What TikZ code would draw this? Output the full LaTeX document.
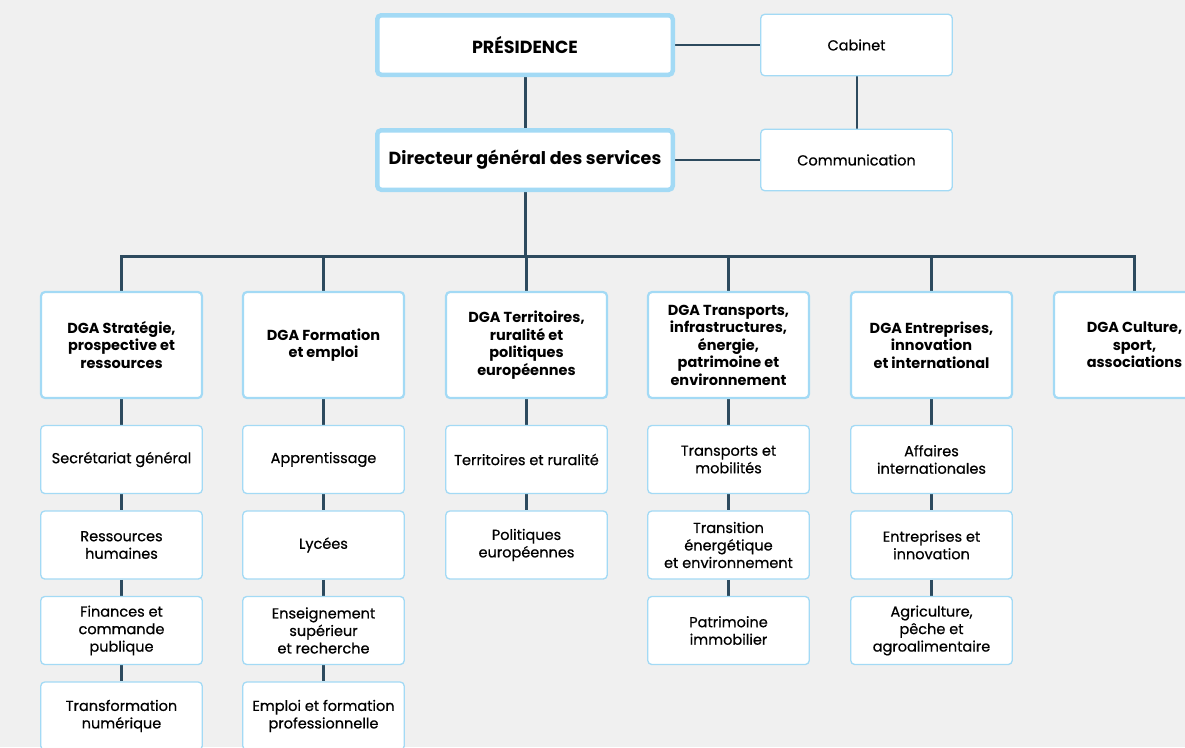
\documentclass[tikz,border=0pt]{standalone}
\usepackage{fontspec}
\setmainfont{Poppins}
\newfontfamily\midfont{Poppins}[FakeBold=0.6]
\usetikzlibrary{backgrounds}
\definecolor{paper}{HTML}{F0F0F0}
\definecolor{frame}{HTML}{A3DAF5}
\definecolor{wire}{HTML}{2D4A5E}

\begin{document}
\begin{tikzpicture}[x=1pt,y=-1pt,
  box/.style={draw=frame,fill=white,rounded corners=4pt,align=center,inner sep=2pt,
    font=\midfont\fontsize{14.5}{17.5}\selectfont},
  headbox/.style={box,line width=4.5pt,minimum width=295.5pt,minimum height=59.5pt,
    font=\bfseries\fontsize{17.5}{20}\selectfont},
  sidebox/.style={box,line width=1.3pt,minimum width=191.5pt,minimum height=61.5pt},
  dgabox/.style={box,line width=2.2pt,minimum width=161pt,minimum height=106pt,
    font=\bfseries\fontsize{14.5}{17.5}\selectfont},
  unitbox/.style={box,line width=1.3pt,minimum width=161.5pt,minimum height=68pt},
  branch/.style={draw=wire,line width=3pt},
  sidebranch/.style={draw=wire,line width=2pt}]
  \useasboundingbox (0,0) rectangle (1185,747);
  % direction
  \node[headbox] (pres) at (525,45) {PRÉSIDENCE};
  \node[headbox] (dgs) at (525,160) {Directeur général des services};
  \node[sidebox] (cab) at (856.5,45) {Cabinet};
  \node[sidebox] (com) at (856.5,160) {Communication};
  \coordinate (bus) at (525,256);
  % DGA
  \node[dgabox] (d1) at (121.5,345) {DGA Stratégie,\\prospective et\\ressources};
  \node[dgabox] (d2) at (323.5,345) {DGA Formation\\et emploi};
  \node[dgabox] (d3) at (526.5,345) {DGA Territoires,\\ruralité et\\politiques\\européennes};
  \node[dgabox] (d4) at (728.5,345) {DGA Transports,\\infrastructures,\\énergie,\\patrimoine et\\environnement};
  \node[dgabox] (d5) at (931.5,345) {DGA Entreprises,\\innovation\\et international};
  \node[dgabox] (d6) at (1134.5,345) {DGA Culture,\\sport,\\associations};
  % services
  \node[unitbox] (s11) at (121.5,459.5) {Secrétariat général};
  \node[unitbox] (s12) at (121.5,545) {Ressources\\humaines};
  \node[unitbox] (s13) at (121.5,630.5) {Finances et\\commande\\publique};
  \node[unitbox] (s14) at (121.5,716) {Transformation\\numérique};
  \node[unitbox] (s21) at (323.5,459.5) {Apprentissage};
  \node[unitbox] (s22) at (323.5,545) {Lycées};
  \node[unitbox] (s23) at (323.5,630.5) {Enseignement\\supérieur\\et recherche};
  \node[unitbox] (s24) at (323.5,716) {Emploi et formation\\professionnelle};
  \node[unitbox] (s31) at (526.5,459.5) {Territoires et ruralité};
  \node[unitbox] (s32) at (526.5,545) {Politiques\\européennes};
  \node[unitbox] (s41) at (728.5,459.5) {Transports et\\mobilités};
  \node[unitbox] (s42) at (728.5,545) {Transition\\énergétique\\et environnement};
  \node[unitbox] (s43) at (728.5,630.5) {Patrimoine\\immobilier};
  \node[unitbox] (s51) at (931.5,459.5) {Affaires\\internationales};
  \node[unitbox] (s52) at (931.5,545) {Entreprises et\\innovation};
  \node[unitbox] (s53) at (931.5,630.5) {Agriculture,\\pêche et\\agroalimentaire};
  % links
  \begin{scope}[on background layer]
    \fill[paper] (0,0) rectangle (1185,747);
    \draw[branch] (pres) -- (dgs) -- (bus);
    \draw[sidebranch] (pres) -- (cab) -- (com) -- (dgs);
    \draw[branch] (d1) |- (bus) -| (d6);
    \draw[branch] (d2) -- (d2 |- bus);
    \draw[branch] (d3) -- (d3 |- bus);
    \draw[branch] (d4) -- (d4 |- bus);
    \draw[branch] (d5) -- (d5 |- bus);
    \draw[branch] (d1) -- (s11) -- (s12) -- (s13) -- (s14);
    \draw[branch] (d2) -- (s21) -- (s22) -- (s23) -- (s24);
    \draw[branch] (d3) -- (s31) -- (s32);
    \draw[branch] (d4) -- (s41) -- (s42) -- (s43);
    \draw[branch] (d5) -- (s51) -- (s52) -- (s53);
  \end{scope}
\end{tikzpicture}
\end{document}
